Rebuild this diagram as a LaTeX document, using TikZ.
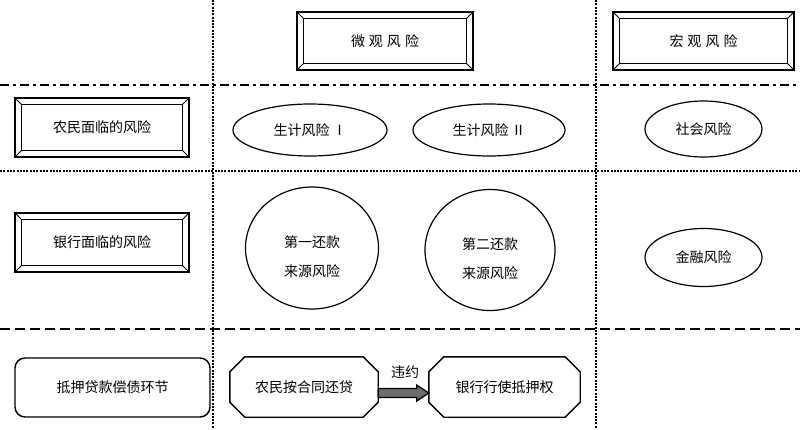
\documentclass[tikz,border=0pt]{standalone}
\usepackage{fontspec}
\setmainfont{Noto Sans CJK SC}
\usetikzlibrary{calc,shapes.geometric}
\tikzset{
  txt/.style={font=\fontsize{14}{16}\selectfont, inner sep=0pt},
  bevelbox/.style={txt, draw, line width=1.5pt, rectangle},
  ell/.style={txt, draw, line width=1.2pt, ellipse},
  octtext/.style={txt, rectangle},
  roundbox/.style={txt, draw, line width=1.4pt, rectangle, rounded corners=10pt},
  vdots/.style={line width=2.2pt, dash pattern=on 2pt off 1.3pt},
  hdots/.style={line width=2pt, dash pattern=on 2pt off 1.3pt},
  dashdotline/.style={line width=2pt, dash pattern=on 9pt off 4pt on 3pt off 4pt},
  dashline/.style={line width=2pt, dash pattern=on 10pt off 5pt},
  arrowfill/.style={draw=black, line width=1.2pt, fill=gray!85!black, line join=miter}
}
\newcommand\bevelnode[6]{%
  \node[bevelbox, minimum width=#4pt, minimum height=#5pt] (#1) at (#2,#3) {#6};
  \draw[line width=1.4pt] ($(#1.north west)+(7,7)$) rectangle ($(#1.south east)+(-7,-7)$);
  \draw[line width=0.8pt] (#1.north west) -- ++(7,7) (#1.north east) -- ++(-7,7)
    (#1.south west) -- ++(7,-7) (#1.south east) -- ++(-7,-7);
}
\newcommand\octnode[5]{%
  \node[octtext, minimum width=#4pt, minimum height=60pt] (#1) at (#2,#3) {#5};
  \draw[line width=1.4pt] ($(#1.north west)+(15,0)$) -- ($(#1.north east)+(-15,0)$)
    -- ($(#1.north east)+(0,15)$) -- ($(#1.south east)+(0,-15)$)
    -- ($(#1.south east)+(-15,0)$) -- ($(#1.south west)+(15,0)$)
    -- ($(#1.south west)+(0,-15)$) -- ($(#1.north west)+(0,15)$) -- cycle;
}
\begin{document}
\begin{tikzpicture}[x=1pt,y=-1pt]
\useasboundingbox[fill=white] (0,0) rectangle (800,429);
% grid lines
\draw[vdots] (213,0) -- (213,429);
\draw[vdots] (596,0) -- (596,429);
\draw[dashdotline] (0,85) -- (800,85);
\draw[hdots] (0,171) -- (800,171);
\draw[dashline] (0,329) -- (800,329);
% headers
\bevelnode{micro}{385}{41}{176}{58}{微\kern4pt观\kern4pt风\kern4pt险}
\bevelnode{macro}{703.5}{41}{181}{58}{宏\kern4pt观\kern4pt风\kern4pt险}
\bevelnode{farmer}{102}{127.5}{174}{59}{农民面临的风险}
\bevelnode{bank}{102}{242.5}{174}{59}{银行面临的风险}
% risks
\node[ell, minimum width=154pt, minimum height=52pt] (live1) at (310,130) {生计风险\kern3ptⅠ};
\node[ell, minimum width=152pt, minimum height=52pt] (live2) at (489,130) {生计风险\kern3ptⅡ};
\node[ell, minimum width=117pt, minimum height=56pt] (social) at (703.5,129) {社会风险};
\node[ell, minimum width=133pt, minimum height=122pt, align=center] (repay1) at (312,248) {\rule{0pt}{30pt}第一还款\\[13pt]来源风险};
\node[ell, minimum width=130pt, minimum height=121pt, align=center] (repay2) at (490,250) {\rule{0pt}{30pt}第二还款\\[13pt]来源风险};
\node[ell, minimum width=117pt, minimum height=58pt] (finance) at (703.5,257.5) {金融风险};
% bottom row
\node[roundbox, minimum width=195pt, minimum height=59pt] (stage) at (112.5,387.5) {抵押贷款偿债环节};
\octnode{pay}{304}{387}{148}{农民按合同还贷}
\octnode{seize}{504.5}{387}{151}{银行行使抵押权}
\draw[arrowfill] ($(pay.east)+(0,1.5)$) -- ($(seize.west)+(-12,1.5)$) -- ($(seize.west)+(-12,-2)$)
  -- ($(seize.west)+(0,6)$) -- ($(seize.west)+(-12,14)$) -- ($(seize.west)+(-12,10.5)$)
  -- ($(pay.east)+(0,10.5)$) -- cycle;
\node[txt] (default) at (405,372) {违约};
\end{tikzpicture}
\end{document}
